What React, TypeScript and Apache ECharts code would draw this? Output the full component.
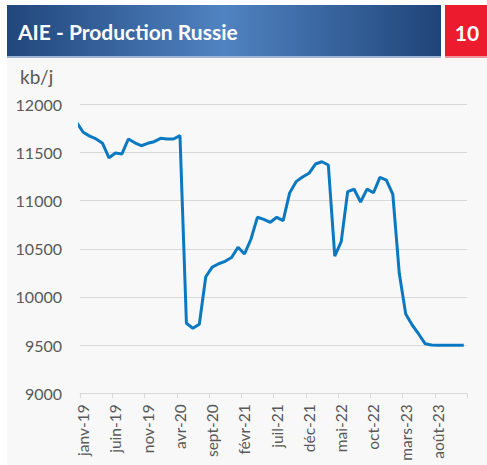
import React, { useEffect, useRef } from "react";
import * as echarts from "echarts";

// Months (French abbreviations) and years shown on the category axis
const monthNames = ["janv", "févr", "mars", "avr", "mai", "juin", "juil", "août", "sept", "oct", "nov", "déc"];
const years = [19, 20, 21, 22, 23];

// Production (kb/j), monthly from janv-19 to déc-23
const production = [
  11710, 11670, 11640, 11595, 11445, 11495, 11485, 11640, 11600, 11570, 11595, 11612,
  11647, 11640, 11640, 11675, 9727, 9675, 9716, 10210, 10310, 10345, 10370, 10410,
  10516, 10446, 10599, 10827, 10806, 10775, 10827, 10792, 11080, 11197, 11245, 11284,
  11380, 11404, 11370, 10425, 10574, 11093, 11118, 10986, 11120, 11082, 11242, 11214,
  11066, 10246, 9823, 9709, 9616, 9515, 9502, 9500, 9500, 9500, 9500, 9500,
];
// Previous month (déc-18), only its segment entering the plot is visible
const previousMonth = 11810;

const yTicks = [9000, 9500, 10000, 10500, 11000, 11500, 12000];

const FONT = "Lato, 'Noto Sans', sans-serif";

export default function App() {
  const ref = useRef<HTMLDivElement>(null);

  useEffect(() => {
    if (!ref.current) return;
    const chart = echarts.init(ref.current, null, { renderer: "svg" });

    const categories: string[] = [];
    years.forEach((y) => monthNames.forEach((m) => categories.push(`${m}-${y}`)));

    const seriesData: [number, number][] = [[-0.5, previousMonth]];
    production.forEach((v, i) => seriesData.push([i + 0.5, v]));

    const grad = new echarts.graphic.LinearGradient(0, 0, 1, 0, [
      { offset: 0, color: "#21467c" },
      { offset: 0.5, color: "#5083c1" },
      { offset: 1, color: "#1f4479" },
    ]);

    chart.setOption({
      animation: false,
      backgroundColor: "#ffffff",
      textStyle: { fontFamily: FONT },
      graphic: [
        { type: "rect", z: -10, shape: { x: 7, y: 58, width: 480, height: 407 }, style: { fill: "#f8f8f8" } },
        { type: "rect", shape: { x: 7, y: 5, width: 434, height: 51 }, style: { fill: grad } },
        { type: "rect", shape: { x: 7, y: 56, width: 434, height: 2 }, style: { fill: "#9fb3d3" } },
        { type: "rect", shape: { x: 445, y: 5, width: 42, height: 51 }, style: { fill: "#ec1c2e" } },
        { type: "rect", shape: { x: 445, y: 56, width: 42, height: 2 }, style: { fill: "#f0959d" } },
        {
          type: "text", x: 18, y: 31,
          style: { text: "AIE - Production Russie", fill: "#ffffff", font: `bold 21px ${FONT}`, verticalAlign: "middle" },
        },
        {
          type: "text", x: 467, y: 32,
          style: { text: "10", fill: "#ffffff", font: `bold 21px ${FONT}`, align: "center", verticalAlign: "middle" },
        },
        {
          type: "text", x: 20, y: 76,
          style: { text: "kb/j", fill: "#595959", font: `19px ${FONT}`, verticalAlign: "middle" },
        },
      ],
      grid: { left: 80, right: 20, top: 104.3, bottom: 71.7, containLabel: false, outerBoundsMode: "none" },
      xAxis: [
        {
          type: "value",
          min: 0,
          max: 60,
          interval: 5,
          axisLine: { show: true, lineStyle: { color: "#d9d9d9", width: 1 } },
          axisTick: { show: true, length: 5, lineStyle: { color: "#d9d9d9" } },
          axisLabel: { show: false },
          splitLine: { show: false },
        },
        {
          type: "category",
          position: "bottom",
          data: categories,
          boundaryGap: true,
          axisLine: { show: false },
          axisTick: { show: false },
          axisLabel: { interval: 4, rotate: 90, margin: 11, color: "#595959", fontSize: 15.5, fontFamily: FONT },
        },
      ],
      yAxis: {
        type: "value",
        min: yTicks[0],
        max: yTicks[yTicks.length - 1],
        interval: 500,
        axisLine: { show: false },
        axisTick: { show: false },
        axisLabel: {
          margin: 18, color: "#595959", fontSize: 16, fontFamily: FONT,
          formatter: (v: number) => String(v),
        },
        splitLine: { lineStyle: { color: "#d9d9d9", width: 1 } },
      },
      series: [
        {
          type: "line",
          xAxisIndex: 0,
          data: seriesData,
          showSymbol: false,
          clip: true,
          lineStyle: { color: "#0b79c2", width: 3 },
        },
      ],
    });

    return () => chart.dispose();
  }, []);

  return <div ref={ref} style={{ position: "absolute", left: 0, top: 0, width: 487, height: 465 }} />;
}
